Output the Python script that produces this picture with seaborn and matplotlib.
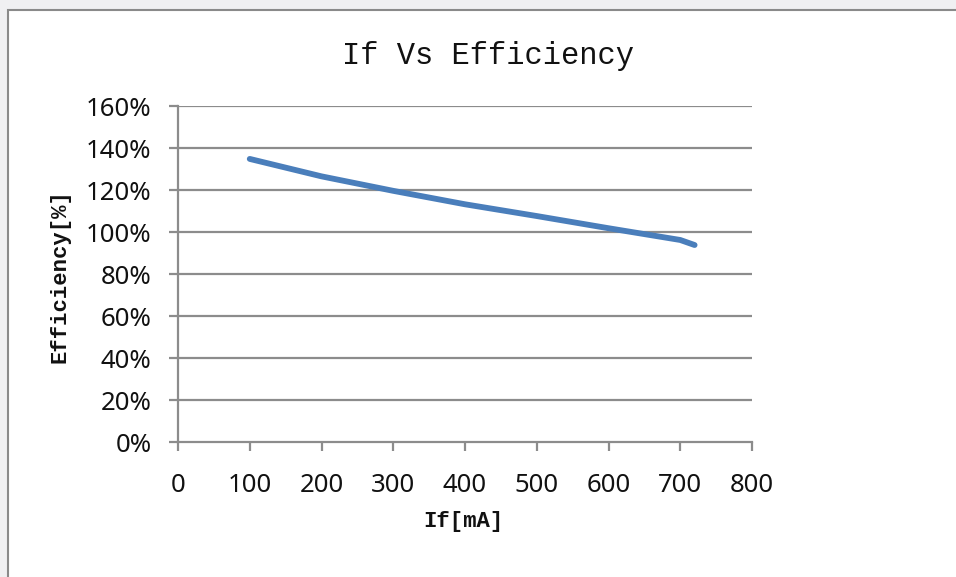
import matplotlib
matplotlib.use("Agg")
import matplotlib.pyplot as plt
from matplotlib.patches import Rectangle
import seaborn as sns
import pandas as pd

# data
if_ma = [100, 200, 300, 400, 500, 600, 700, 720]
efficiency = [134.8, 126.5, 119.6, 113.2, 107.6, 101.8, 96.2, 93.8]
x_ticks = [0, 100, 200, 300, 400, 500, 600, 700, 800]
y_ticks = [0, 20, 40, 60, 80, 100, 120, 140, 160]
y_tick_labels = [f"{v}%" for v in y_ticks]
title = "If Vs Efficiency"
x_label = "If[mA]"
y_label = "Efficiency[%]"

df = pd.DataFrame({"If": if_ma, "Eff": efficiency})

sns.set_theme(style="white")
plt.rcParams['font.family'] = ['Noto Sans', 'DejaVu Sans']

W, H = 956, 577
fig = plt.figure(figsize=(W / 100, H / 100), dpi=100)
fig.patch.set_facecolor("#f0f0f2")
bg = Rectangle((8 / W, -0.1), 1.2, 1 - 10 / H + 0.1, transform=fig.transFigure,
               facecolor="white", edgecolor="#8a8a8a", linewidth=1.5, zorder=-10)
fig.patches.append(bg)

ax = fig.add_axes([178 / W, 1 - 442 / H, (752 - 178) / W, (442 - 106) / H])
ax.set_zorder(5)
ax.set_facecolor("none")

sns.lineplot(data=df, x="If", y="Eff", ax=ax, color="#4a7ebb", linewidth=4.2,
             solid_capstyle="round", solid_joinstyle="round", zorder=3)

ax.set_xlim(0, 800)
ax.set_ylim(0, 160)
ax.set_xticks(x_ticks)
ax.set_xticklabels([str(v) for v in x_ticks])
ax.set_yticks(y_ticks)
ax.set_yticklabels(y_tick_labels)

ax.grid(False)
for v in y_ticks[1:]:
    ax.axhline(v, color="#8c8c8c", linewidth=1.6, zorder=1)

for s in ["top", "right"]:
    ax.spines[s].set_visible(False)
for s in ["left", "bottom"]:
    ax.spines[s].set_color("#8c8c8c")
    ax.spines[s].set_linewidth(1.6)

ax.tick_params(axis="both", which="major", direction="out", length=6.5, width=1.6,
               color="#8c8c8c", labelsize=18.5, labelcolor="#111111",
               bottom=True, left=True, top=False, right=False)
ax.tick_params(axis="x", pad=16)
ax.tick_params(axis="y", pad=12.5)

ax.set_xlabel("")
ax.set_ylabel("")

fig.text(488 / W, 1 - 56 / H, title, ha="center", va="center", fontsize=22,
         family=["Liberation Mono", "DejaVu Sans Mono"], color="#111111")
fig.text(463 / W, 1 - 522 / H, x_label, ha="center", va="center", fontsize=16,
         family=["Liberation Mono", "DejaVu Sans Mono"], fontweight="bold", color="#111111")
fig.text(60 / W, 1 - 276 / H, y_label, ha="center", va="center", fontsize=16, rotation=90,
         family=["Liberation Mono", "DejaVu Sans Mono"], fontweight="bold", color="#111111")

fig.savefig("out.png", dpi=100, facecolor=fig.get_facecolor())
